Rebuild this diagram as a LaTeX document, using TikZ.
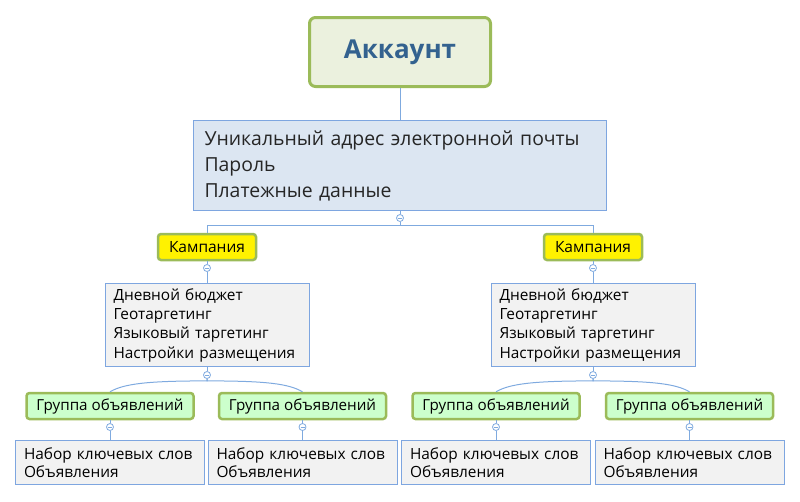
\documentclass[tikz,border=0pt]{standalone}
\usepackage{fontspec}
\setmainfont{Open Sans}
\definecolor{leafgreen}{HTML}{9BBB59}
\definecolor{rootfill}{HTML}{EBF1DE}
\definecolor{rootblue}{HTML}{33628F}
\definecolor{linkblue}{HTML}{7FAADF}
\definecolor{infoline}{HTML}{7EA6E0}
\definecolor{infofill}{HTML}{DCE6F2}
\definecolor{notefill}{HTML}{F2F2F2}
\definecolor{grpfill}{HTML}{CCFFCC}
\begin{document}
\begin{tikzpicture}[x=1pt, y=-1pt,
    link/.style={draw=linkblue, line width=1pt},
    rootbox/.style={draw=leafgreen, line width=3pt, fill=rootfill, rounded corners=6pt,
        minimum width=181pt, minimum height=69pt, text=rootblue,
        font=\fontsize{26}{30}\selectfont\bfseries},
    infobox/.style={draw=infoline, line width=1pt, fill=infofill, minimum width=413pt,
        minimum height=90pt, inner xsep=11pt, text width=391pt, align=left,
        text=black!85, font=\fontsize{19.4}{26}\selectfont},
    campbox/.style={draw=leafgreen, line width=2.5pt, fill=yellow, rounded corners=3pt,
        minimum width=98pt, minimum height=26pt, font=\fontsize{15.5}{18}\selectfont},
    grpbox/.style={draw=leafgreen, line width=2.5pt, fill=grpfill, rounded corners=3pt,
        minimum width=167pt, minimum height=26pt, font=\fontsize{15.2}{18}\selectfont},
    detbox/.style={draw=infoline, line width=1pt, fill=notefill, minimum width=204pt,
        minimum height=83pt, inner xsep=8.5pt, text width=187pt, align=left,
        font=\fontsize{15.4}{19.3}\selectfont},
    kwbox/.style={draw=infoline, line width=1pt, fill=notefill, minimum width=189pt,
        minimum height=44pt, inner xsep=8.5pt, text width=172pt, align=left,
        font=\fontsize{15.4}{18}\selectfont},
    tog/.style={circle, draw=linkblue, fill=white, line width=0.8pt, inner sep=0pt,
        minimum size=7pt, path picture={\draw[linkblue, line width=0.8pt]
        ([xshift=-2pt]path picture bounding box.center) --
        ([xshift=2pt]path picture bounding box.center);}}
]
    \useasboundingbox (0,0) rectangle (800,501);

    % account and its data
    \node[rootbox] (acct) at (400,52) {Аккаунт};
    \node[infobox] (info) at (400,165.5)
        {Уникальный адрес электронной почты\\Пароль\\Платежные данные};
    \node[tog] (t0) at (400,218) {};
    \draw[link] (acct) -- (info);
    \draw[link] (info) -- (t0);

    % two campaigns, each with two ad groups
    \foreach \i/\cx/\ga/\gb in {1/207/110/302.5, 2/593/496/689.5} {
        \node[campbox] (camp\i) at (\cx,247) {Кампания};
        \node[tog] (tc\i) at (\cx,268) {};
        \node[detbox] (det\i) at (\cx,325)
            {Дневной бюджет\\Геотаргетинг\\Языковый таргетинг\\Настройки размещения};
        \node[tog] (td\i) at (\cx,375) {};

        \node[grpbox] (ga\i) at (\ga,406) {Группа объявлений};
        \node[grpbox] (gb\i) at (\gb,406) {Группа объявлений};
        \node[tog] (tga\i) at (\ga,427) {};
        \node[tog] (tgb\i) at (\gb,427) {};
        \node[kwbox] (ka\i) at (\ga,462.5) {Набор ключевых слов\\Объявления};
        \node[kwbox] (kb\i) at (\gb,462.5) {Набор ключевых слов\\Объявления};

        \draw[link] (t0.south) -- ++(0,3.5) -| (camp\i.north);
        \draw[link] (camp\i) -- (tc\i);
        \draw[link] (tc\i) -- (det\i);
        \draw[link] (det\i) -- (td\i);
        \draw[link] (td\i.south) -- ++(0,2) .. controls +(-60,0) and +(14,-8) .. (ga\i.north);
        \draw[link] (td\i.south) -- ++(0,2) .. controls +(60,0) and +(-14,-8) .. (gb\i.north);
        \draw[link] (ga\i) -- (tga\i);
        \draw[link] (gb\i) -- (tgb\i);
        \draw[link] (tga\i) -- (ka\i);
        \draw[link] (tgb\i) -- (kb\i);
    }
\end{tikzpicture}
\end{document}
